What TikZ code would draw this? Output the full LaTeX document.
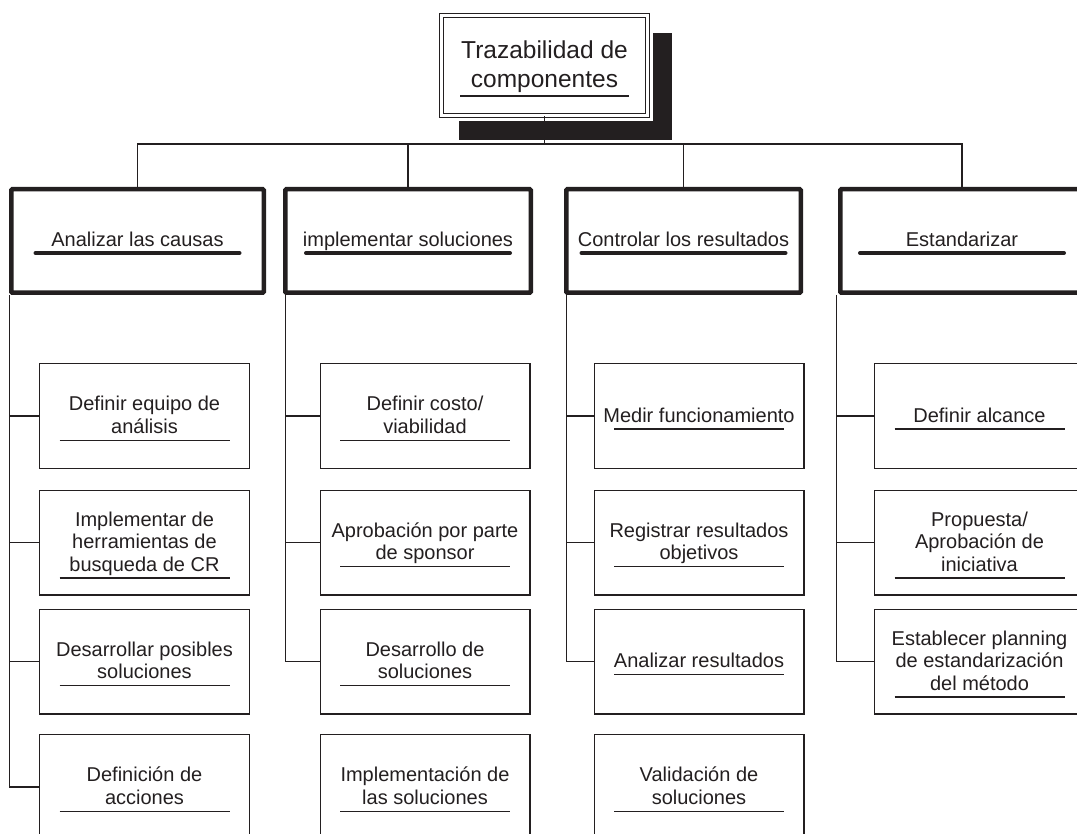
\documentclass[tikz,border=0pt]{standalone}
\usepackage{fontspec}
\setmainfont{Liberation Sans}
\definecolor{ink}{RGB}{35,31,32}

\tikzset{
  conn/.style={draw=ink, line width=1.3pt},
  topbox/.style={draw=ink, double=white, double distance=2.6pt, line width=1.3pt,
    minimum width=206pt, minimum height=100pt, inner sep=0pt},
  phasebox/.style={draw=ink, fill=white, line width=4.5pt, rounded corners=1pt,
    minimum height=103.5pt, inner sep=0pt},
  phaseline/.style={draw=ink, line width=4pt, line cap=round},
  taskbox/.style={draw=ink, fill=white, line width=1.4pt, minimum width=209.6pt,
    minimum height=104.6pt, inner sep=0pt},
  taskline/.style={draw=ink, line width=1.3pt},
  lbl/.style={anchor=base, inner sep=0pt, text=ink, font=\fontsize{20}{22.5}\selectfont},
  toplbl/.style={anchor=base, inner sep=0pt, text=ink, font=\fontsize{24.5}{29}\selectfont},
}

% a task box: name, centre x, centre y, number of lines, text
\newcommand\subtask[5]{%
  \node[taskbox] (#1) at (#2,#3) {};
  \pgfmathsetmacro\firstbase{#3+6-(#4-1)*11.25}%
  \pgfmathsetmacro\ruley{#3+6+(#4-1)*11.25+7}%
  \node[lbl] (#1-t) at (#2,\firstbase) {\begin{tabular}[t]{@{}c@{}}#5\end{tabular}};
  \draw[taskline] (#2-85,\ruley) -- (#2+85,\ruley);
}

% a phase box: name, centre x, width, text
\newcommand\phase[4]{%
  \node[phasebox, minimum width=#3pt] (#1) at (#2,241) {};
  \node[lbl] (#1-t) at (#2,247) {#4};
  \draw[phaseline] (#2-102,253) -- (#2+102,253);
}

\begin{document}
\begin{tikzpicture}[x=1pt, y=-1pt]
\useasboundingbox (0,0) rectangle (1077,834);
\clip (0,0) rectangle (1077,834);

% root with its drop shadow
\node[topbox] (top) at (544.5,65.5) {};
\fill[ink] ([shift={(18.4,18.4)}]top.north west) rectangle ([shift={(23.6,23.6)}]top.south east);
\fill[white] ([shift={(-4.6,-4.6)}]top.north west) rectangle ([shift={(4.6,4.6)}]top.south east);
\node[topbox] (top) at (544.5,65.5) {};
\node[toplbl] (top-t) at (544.5,59) {\begin{tabular}[t]{@{}c@{}}Trazabilidad de\\componentes\end{tabular}};
\draw[taskline] (460,96) -- (629,96);

% phases
\coordinate (bus) at (544.5,144);
\draw[conn] (top.south) -- (bus);
\draw[conn] (137.5,187) |- (bus) -| (962,187);
\draw[conn] (408,187) -- (408,144);
\draw[conn] (683.5,187) -- (683.5,144);

\phase{a1}{137.5}{252.5}{Analizar las causas}
\phase{b1}{408}{245.5}{implementar soluciones}
\phase{c1}{683.5}{234.5}{Controlar los resultados}
\phase{d1}{962}{243.5}{Estandarizar}

% tasks
\subtask{e1a}{144.5}{416}{2}{Definir equipo de\\análisis}
\subtask{e1b}{144.5}{542.5}{3}{Implementar de\\herramientas de\\busqueda de CR}
\subtask{e1c}{144.5}{661.5}{2}{Desarrollar posibles\\soluciones}
\subtask{e1d}{144.5}{787}{2}{Definición de\\acciones}

\subtask{e2a}{425}{416}{2}{Definir costo/\\viabilidad}
\subtask{e2b}{425}{542.5}{2}{Aprobación por parte\\de sponsor}
\subtask{e2c}{425}{661.5}{2}{Desarrollo de\\soluciones}
\subtask{e2d}{425}{787}{2}{Implementación de\\las soluciones}

\subtask{e3a}{699}{416}{1}{Medir funcionamiento}
\subtask{e3b}{699}{542.5}{2}{Registrar resultados\\objetivos}
\subtask{e3c}{699}{661.5}{1}{Analizar resultados}
\subtask{e3d}{699}{787}{2}{Validación de\\soluciones}

\subtask{e4a}{979.5}{416}{1}{Definir alcance}
\subtask{e4b}{979.5}{542.5}{3}{Propuesta/\\Aprobación de\\iniciativa}
\subtask{e4c}{979.5}{661.5}{3}{Establecer planning\\de estandarización\\del método}

% trunks from each phase down to its tasks
\coordinate (t1) at ([xshift=0.75pt]a1.south west);
\coordinate (t2) at ([xshift=2.75pt]b1.south west);
\coordinate (t3) at ([xshift=2.75pt]c1.south west);
\coordinate (t4) at ([xshift=-1.25pt]d1.south west);

\draw[conn] (t1) |- (e1d.west);
\foreach \r in {a,b,c} \draw[conn] (e1\r.west -| t1) -- (e1\r.west);
\draw[conn] (t2) |- (e2c.west);
\foreach \r in {a,b} \draw[conn] (e2\r.west -| t2) -- (e2\r.west);
\draw[conn] (t3) |- (e3c.west);
\foreach \r in {a,b} \draw[conn] (e3\r.west -| t3) -- (e3\r.west);
\draw[conn] (t4) |- (e4c.west);
\foreach \r in {a,b} \draw[conn] (e4\r.west -| t4) -- (e4\r.west);
\end{tikzpicture}
\end{document}
